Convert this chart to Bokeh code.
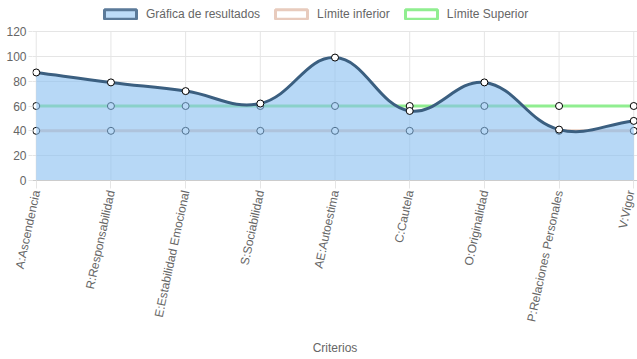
import math
from bokeh.plotting import figure
from bokeh.models import Range1d, Legend, LegendItem, FixedTicker
from bokeh.embed import file_html
from bokeh.resources import INLINE

categories = ["A:Ascendencia", "R:Responsabilidad", "E:Estabilidad Emocional",
              "S:Sociabilidad", "AE:Autoestima", "C:Cautela", "O:Originalidad",
              "P:Relaciones Personales", "V:Vigor"]
resultados = [87, 79, 72, 62, 99, 56, 79, 41, 48]
limite_inferior = [40, 40, 40, 40, 40, 40, 40, 40, 40]
limite_superior = [60, 60, 60, 60, 60, 60, 60, 60, 60]
y_ticks = [0, 20, 40, 60, 80, 100, 120]

FONT = "Liberation Sans"
TXT = "#666666"
GRID = "#e5e5e5"
C_RES_LINE = "#3b5f80"
C_RES_FILL = "#87bef0"
C_INF = "#e8cbbd"
C_SUP = "#90ee90"

xs = list(range(len(categories)))
Y_MAX = y_ticks[-1]
# frame extends above the y-axis top so the legend (drawn inside the frame) is visible
Y_TOP = Y_MAX * 180 / 149

# Chart.js-style spline control points (tension 0.4), computed in pixel space
PX, PY = 74.6, 1.242
TENSION = 0.4


def spline_controls(xv, yv, t=TENSION):
    n = len(xv)
    prev_cp, next_cp = [], []
    for i in range(n):
        a = i - 1 if i > 0 else i
        b = i + 1 if i < n - 1 else i
        px, py = xv[a] * PX, yv[a] * PY
        cx, cy = xv[i] * PX, yv[i] * PY
        nx, ny = xv[b] * PX, yv[b] * PY
        d01 = math.hypot(cx - px, cy - py)
        d12 = math.hypot(nx - cx, ny - cy)
        tot = d01 + d12
        s01 = d01 / tot if tot else 0
        s12 = d12 / tot if tot else 0
        fa, fb = t * s01, t * s12
        pcx, pcy = cx - fa * (nx - px), cy - fa * (ny - py)
        ncx, ncy = cx + fb * (nx - px), cy + fb * (ny - py)
        clampx = lambda v: min(max(v / PX, xv[0]), xv[-1])
        clampy = lambda v: min(max(v / PY, 0), Y_MAX)
        prev_cp.append((clampx(pcx), clampy(pcy)))
        next_cp.append((clampx(ncx), clampy(ncy)))
    return prev_cp, next_cp


prev_cp, next_cp = spline_controls(xs, resultados)
seg = dict(x0=xs[:-1], y0=resultados[:-1], x1=xs[1:], y1=resultados[1:],
           cx0=[c[0] for c in next_cp[:-1]], cy0=[c[1] for c in next_cp[:-1]],
           cx1=[c[0] for c in prev_cp[1:]], cy1=[c[1] for c in prev_cp[1:]])

# outline of the curve for the area fill
fx, fy = [], []
STEPS = 30
for i in range(len(xs) - 1):
    p0 = (seg["x0"][i], seg["y0"][i])
    p1 = (seg["cx0"][i], seg["cy0"][i])
    p2 = (seg["cx1"][i], seg["cy1"][i])
    p3 = (seg["x1"][i], seg["y1"][i])
    for k in range(STEPS + (1 if i == len(xs) - 2 else 0)):
        t = k / STEPS
        u = 1 - t
        fx.append(u**3 * p0[0] + 3 * u * u * t * p1[0] + 3 * u * t * t * p2[0] + t**3 * p3[0])
        fy.append(u**3 * p0[1] + 3 * u * u * t * p1[1] + 3 * u * t * t * p2[1] + t**3 * p3[1])

p = figure(width=637, height=359, output_backend="svg", toolbar_location=None,
           x_range=Range1d(-0.05, 8.05), y_range=Range1d(0, Y_TOP),
           min_border_left=32, min_border_right=0, min_border_top=0,
           min_border_bottom=179)
p.outline_line_color = None
p.background_fill_color = "white"
p.border_fill_color = "white"

# grids
p.xgrid.grid_line_color = None
p.segment(x0=xs, y0=[0] * len(xs), x1=xs, y1=[Y_MAX] * len(xs),
          line_color=GRID, line_width=1)
p.ygrid.ticker = FixedTicker(ticks=y_ticks[1:])
p.ygrid.grid_line_color = GRID

# axes
p.xaxis.ticker = FixedTicker(ticks=xs)
p.xaxis.major_label_overrides = {i: c for i, c in enumerate(categories)}
p.xaxis.major_label_orientation = 1.36
p.xaxis.axis_line_color = "#cccccc"
p.xaxis.major_tick_line_color = GRID
p.xaxis.major_tick_out = 8
p.xaxis.major_tick_in = 0
p.xaxis.minor_tick_line_color = None
p.xaxis.major_label_standoff = 2
p.xaxis.axis_label = "Criterios"
p.xaxis.axis_label_text_font_style = "normal"
p.xaxis.axis_label_text_font_size = "12px"
p.xaxis.axis_label_text_color = TXT
p.xaxis.axis_label_text_font = FONT
p.xaxis.axis_label_standoff = 13

p.yaxis.ticker = FixedTicker(ticks=y_ticks)
p.yaxis.axis_line_color = None
p.yaxis.major_tick_line_color = GRID
p.yaxis.major_tick_out = 4
p.yaxis.major_tick_in = 0
p.yaxis.minor_tick_line_color = None
p.yaxis.major_label_standoff = 2

for ax in (p.xaxis, p.yaxis):
    ax.major_label_text_font = FONT
    ax.major_label_text_font_size = "12px"
    ax.major_label_text_color = TXT

# limit lines (drawn first, under the fill)
p.line(xs, limite_superior, line_color=C_SUP, line_width=3)
p.scatter(xs, limite_superior, size=7, fill_color="white", line_color="black", line_width=1)
p.line(xs, limite_inferior, line_color=C_INF, line_width=3)
p.scatter(xs, limite_inferior, size=7, fill_color="white", line_color="black", line_width=1)

# results area + curve
p.varea(x=fx, y1=[0] * len(fx), y2=fy, fill_color=C_RES_FILL, fill_alpha=0.6)
p.bezier(x0=seg["x0"], y0=seg["y0"], x1=seg["x1"], y1=seg["y1"],
         cx0=seg["cx0"], cy0=seg["cy0"], cx1=seg["cx1"], cy1=seg["cy1"],
         line_color=C_RES_LINE, line_width=3, line_cap="round")
p.scatter(xs, resultados, size=7, fill_color="white", line_color="black", line_width=1)

# legend (proxy renderers placed outside the visible range)
OFF = [-100]
r1 = p.rect(x=OFF, y=OFF, width=1, height=1, fill_color="#bddcf8", line_color="#5b7a99", line_width=3)
r2 = p.rect(x=OFF, y=OFF, width=1, height=1, fill_color="white", line_color=C_INF, line_width=3)
r3 = p.rect(x=OFF, y=OFF, width=1, height=1, fill_color="white", line_color=C_SUP, line_width=3)
legend = Legend(items=[LegendItem(label="Gráfica de resultados", renderers=[r1]),
                       LegendItem(label="Límite inferior", renderers=[r2]),
                       LegendItem(label="Límite Superior", renderers=[r3])],
                orientation="horizontal", location=(68, 159),
                glyph_width=40, glyph_height=12, label_height=12,
                label_standoff=6, spacing=11, padding=0, margin=0,
                label_text_font=FONT, label_text_font_size="12px",
                label_text_color=TXT, label_text_baseline="middle",
                border_line_color=None, background_fill_alpha=0)
p.add_layout(legend)

open("out.html", "w").write(file_html(p, INLINE))
